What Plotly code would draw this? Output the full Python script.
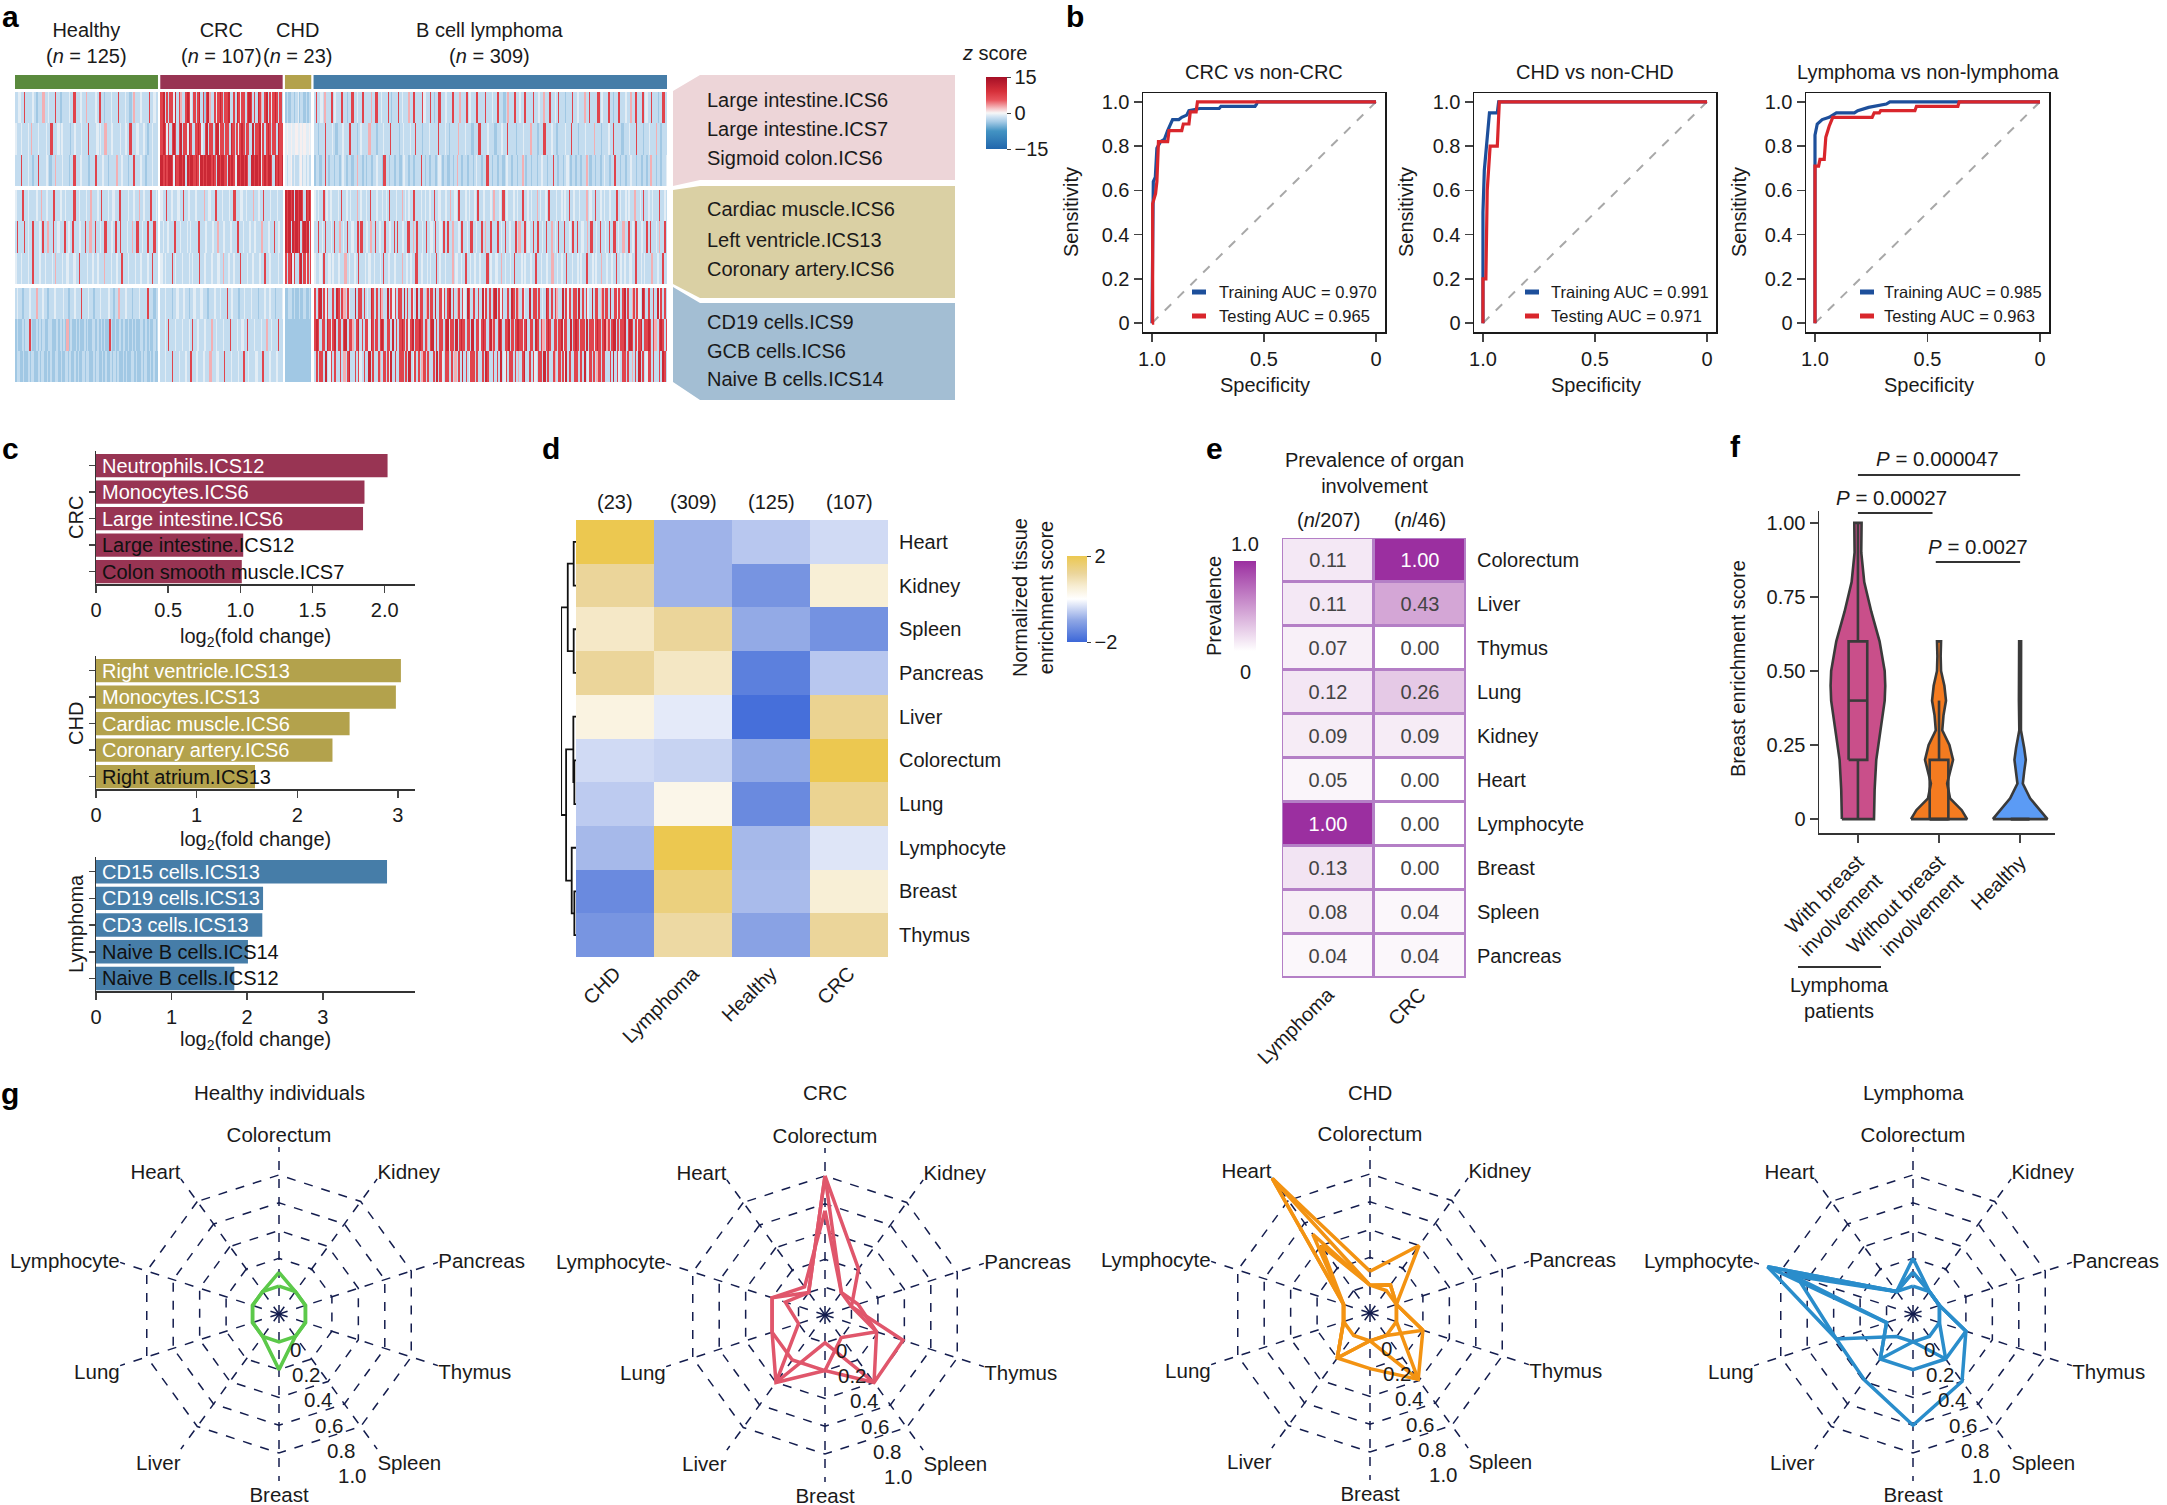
import math
import plotly.graph_objects as go

W, H = 2167, 1505
FONT = "Liberation Sans, Arial, Helvetica, sans-serif"
INK = "#1a1a1a"
NAVY = "#141D4E"

# ============================ DATA ============================
# ---- a: ICS z-score heatmap ----
a_groups = ["Healthy", "CRC", "CHD", "B cell lymphoma"]
a_group_n = [125, 107, 23, 309]
a_features = ["Large intestine.ICS6", "Large intestine.ICS7", "Sigmoid colon.ICS6",
              "Cardiac muscle.ICS6", "Left ventricle.ICS13", "Coronary artery.ICS6",
              "CD19 cells.ICS9", "GCB cells.ICS6", "Naive B cells.ICS14"]
# estimated z-score level of each stripe (read by eye): key -> z
a_level_key = {"-": -0.8, ".": -2.2, ":": -3.8, "b": -6.0, "w": 0.3,
               "p": 2.5, "r": 7.0, "R": 10.5}
a_patterns = [
    ["..-..r....-.:...p..-...r..:....-..r...-..p.....-.r..:...-...r...-..:.p...-....r..-..",
     "rR.r.rr-R.rp..rRr-.r.rR.r:rRp..r-rRr.rrR..r.Rr-rr.rRr.r.Rrp.rR.r-rRr.r.",
     ":.:..:.-:..:.:..",
     ".r..-.p...r.-...r..:..r..-..r....p..r..-...r.:...r.-...p..r....r-...r.:..r...-...r...p...r.-...r....r...-..r...:.p...r..-..r....r..-..p...r..-.r...:...r..-...p..r....r.-...r..:..r...-..p..r...r.-..r...:..r.."],
    ["-..-...-.p...-....-..r...-.-....:..-...-...r....-.-..p...-....-..-..r...-...-.:..-...",
     "rRr-r.rRr.rR.rr-Rr.rrRr-.rR.rr.rR-rr.rr.Rr.r-rRr.rr.R.rrR-r.rRr.rr.Rrr",
     "-w-w--w--w-w--w-",
     "..:...r...-.:...-...r...:.-....p...:...-...r....:.-...-..r...:...-....r...-.:....p...-...:...r....-...:...-..r....:...-...p...:...r...-..:....-..r...:...-....p...:...-..r....:...-...r...:..-...p..:..."],
    ["...r...-..:..r....-.:..p...-...:..r...-....:...r...-..:....p..-...:..r...-..:...-...",
     "RrRrRRr-RrRRrR.RrRRrRr-RrRrRRrRr.RrRRr.RrRr-RRrRrRr.RRrRrR-rRrRRr.RrRrR",
     "-.-w.-..-w.-.-..",
     ":..:..r.:..:..:.-.:..:..p..:.:..:..-..:r..:..:..:.-..:..:...r.:..:..:.-.:..:..:.p..:..:..:.-..:..r..:..:..:.-..:..:..p.:..:..:..-..:..r..:..:.-.:..:..:..p.:..:..:.-..:..r..:..:..-..:..:..:.p..:..:..-"],
    ["-...r..-....-..p..-...r...-..-....r..-...-..p...-.r...-..-...r....-..-..p..-...r..-.",
     "-..r..-...-..r..-...-....p..-...r...-...-..r...-..-...p..-..r...-...-...",
     "RrRrR.RrRRr.RrRr",
     "-.-..r.-.-...-.r..-.-...p.-..-.r...-..-.-.r...-..p.-.-..r...-.-..-.r..-...-.p..-.r...-.-..-.r..-...-.p..-.r.-...-.-..r..-.-..p.-..-.r...-..-.-.r..-..-...p.-..r..-.-..-...r.-..-.-..p..-.r..-.-...r..-."],
    [".r...r.-..r...-.r..p..r..-...r.-..r...-..r..p..r..-..r...-.r..r...-..p..r..-..r...r..",
     ".-..-...r..-...-.-....r...-...-..p...-...-...r..-...-..-...p...-..r..-..",
     "RrR.RrRrR.rRrR.r",
     "..r.-.r..-.r..p.-.r..-..r.r..-.p..r.-..r..-.r.r..-..r..p.r..-.r..-.r..-.r.r..p..-.r..-.r..-..r.p..r...r.-.r..-..r.p..r.-..r.r..-.r..p.-.r..r..-.r.r..-..p.r..-.r..-.r..r.-..p..r.-.r..-..r.r..-.p..r."],
    ["-..-...-..r...-..-...-.p...-..-...-..r....-..-..-...p...-..-..r...-...-..-...-..r...",
     "-.-...r.-...-...-.-...r..-...-...-..p..-..-...r...-..-...-..r..-....-..",
     "r.rR-r..rR.r-r.r",
     "-..-.r..-.-..-...p.-..-.r...-.-..-..-.r..-..-...p..-.-..r..-..-.-..r.-..-...p.-..-.r..-.-..-...r.-..-..p.-..-.r...-.-..-..r..-..-..p..-.-..r..-..-.-..r..-.-..p..-..-.r..-.-..-..r..-.-...p..-..r.."],
    [".-..:...-...p...-..:...-....-..:...-...r...-..:...-....-..:..p...-...:...-....r...:..",
     "..-...:..-...-..:..-...-...:...-..-...r..-...:..-...-...:...-..-..:...-",
     "::..:.::.::.::.:",
     "r.rR.r-r..r.Rr.rp.r-..R.rr.r.-.Rr.r.rp..R.r-r.rr.R.r.r-.R.rr.pr.r.R..r-r.rR.r.pr.r-.Rr.r..r.R-r.r.rR.r-r..r.Rr.rp.r-..R.rr.r.-.Rr.r.rp..R.r-r.rr.R.r.r-.R.rr.pr.r.R..r-r.rR.r.pr.r-.Rr.r..r.R-r.r."],
    [":.::.:..r.::.:.:.::..:::.:.:.:p:.::.:.::.:.::..:.:.:.::r.:.::.:.::.:.:.::..:.:.::.:.",
     "..-.r...-...-...-.r..-...-...p..-...-...r...-..-..r...-...-..p..-...r..",
     "::::::::::::::::",
     "rRr.rr.Rr-rR.rr.rR.rrp.rR.r.rr-Rr.r.rRr.rr.R.r.rRr.r-rR.rrRr.rp.rR.r.rr.rR-rr.R.rRr.rr.R.rr-rRr.rRpr.rRr.rrR.r.rRrr-rR.rr.Rr.rp.rRr.rr.rR-rr.R.rRr.rr.R.rr-rRr.rRpr.rR.r.rrR.rRr.r-rR.rrRr.rp.rRr.r"],
    [":.::.::.:..::.:.::.:.::..:.::.:.::.:.::.:..::.:.::.:.::.:.:.::.:.::..:.::.:.::.:.::",
     "..-...r...-...-..r..-...-...p...-...r...-...-..r..-...-...r...-...-...",
     "::::::::::::::::",
     ".r.rr.R.-r.r..r.p.rR..r.r-.r..R.r..rp.r.r-R.r..rr.r.R.-r.r.pr.r..r.R.r-.rr.r.p.r.R.r.-rr.r..r.Rr..r.r.R.-r.rr.r.p.rR..r.r-.rr.R.r..rp.r.r-R.r..rr.r.R.-r.r.pr.rr..r.R.r-.rr.r.p.r.R.r.-rr.r..r.Rr."],
]

# ---- b: ROC curves (specificity, sensitivity) ----
roc_titles = ["CRC vs non-CRC", "CHD vs non-CHD", "Lymphoma vs non-lymphoma"]
roc_train_auc = [0.970, 0.991, 0.985]
roc_test_auc = [0.965, 0.971, 0.963]
roc_train_spec = [
    [1.0, 0.994, 0.985, 0.978, 0.962, 0.945, 0.930, 0.908, 0.880, 0.867, 0.845, 0.835, 0.787, 0.700, 0.692, 0.540, 0.533, 0.530, 0.0],
    [1.0, 1.0, 0.994, 0.987, 0.978, 0.971, 0.936, 0.930, 0.0],
    [1.0, 1.0, 1.0, 0.990, 0.968, 0.937, 0.905, 0.825, 0.810, 0.762, 0.730, 0.683, 0.667, 0.0],
]
roc_train_sens = [
    [0.0, 0.64, 0.66, 0.79, 0.82, 0.83, 0.87, 0.92, 0.92, 0.93, 0.94, 0.96, 0.97, 0.97, 0.98, 0.98, 0.99, 1.0, 1.0],
    [0.0, 0.50, 0.69, 0.78, 0.90, 0.95, 0.95, 1.0, 1.0],
    [0.0, 0.72, 0.85, 0.90, 0.92, 0.93, 0.95, 0.95, 0.96, 0.975, 0.98, 0.99, 1.0, 1.0],
]
roc_test_spec = [
    [1.0, 0.997, 0.997, 0.984, 0.978, 0.971, 0.930, 0.924, 0.867, 0.860, 0.835, 0.829, 0.803, 0.797, 0.0],
    [1.0, 1.0, 0.987, 0.981, 0.968, 0.936, 0.927, 0.0],
    [1.0, 1.0, 0.984, 0.978, 0.959, 0.952, 0.937, 0.921, 0.746, 0.737, 0.714, 0.708, 0.556, 0.549, 0.365, 0.359, 0.0],
]
roc_test_sens = [
    [0.0, 0.0, 0.54, 0.585, 0.64, 0.82, 0.82, 0.87, 0.87, 0.90, 0.90, 0.955, 0.955, 1.0, 1.0],
    [0.0, 0.20, 0.20, 0.60, 0.80, 0.80, 1.0, 1.0],
    [0.0, 0.71, 0.71, 0.74, 0.74, 0.84, 0.89, 0.93, 0.93, 0.95, 0.95, 0.96, 0.96, 0.98, 0.98, 1.0, 1.0],
]

# ---- c: top enriched ICS (log2 fold change) ----
c_panels = ["CRC", "CHD", "Lymphoma"]
c_crc_labels = ["Neutrophils.ICS12", "Monocytes.ICS6", "Large intestine.ICS6",
                "Large intestine.ICS12", "Colon smooth muscle.ICS7"]
c_crc_values = [2.02, 1.86, 1.85, 1.02, 1.01]
c_chd_labels = ["Right ventricle.ICS13", "Monocytes.ICS13", "Cardiac muscle.ICS6",
                "Coronary artery.ICS6", "Right atrium.ICS13"]
c_chd_values = [3.03, 2.98, 2.52, 2.35, 1.58]
c_lym_labels = ["CD15 cells.ICS13", "CD19 cells.ICS13", "CD3 cells.ICS13",
                "Naive B cells.ICS14", "Naive B cells.ICS12"]
c_lym_values = [3.85, 2.21, 2.20, 2.01, 1.83]

# ---- d: normalized tissue enrichment score ----
d_groups = ["CHD", "Lymphoma", "Healthy", "CRC"]
d_group_n = [23, 309, 125, 107]
d_organs = ["Heart", "Kidney", "Spleen", "Pancreas", "Liver",
            "Colorectum", "Lung", "Lymphocyte", "Breast", "Thymus"]
d_scores = [
    [2.00, -0.85, -0.63, -0.42],
    [1.20, -0.85, -1.28, 0.55],
    [0.72, 1.20, -0.96, -1.32],
    [1.20, 0.75, -1.61, -0.63],
    [0.40, -0.24, -1.88, 1.30],
    [-0.42, -0.50, -0.97, 2.00],
    [-0.58, 0.30, -1.44, 1.30],
    [-0.79, 2.00, -0.79, -0.29],
    [-1.44, 1.50, -0.76, 0.55],
    [-1.27, 1.10, -1.06, 1.20],
]
# row dendrogram: (child_a, child_b, merge height); leaves 0..9, new nodes 10..
d_linkage = [(0, 1, 7), (2, 3, 7), (10, 11, 25), (5, 6, 5), (4, 13, 8),
             (8, 9, 5), (7, 15, 13), (14, 16, 30), (12, 17, 45)]

# ---- e: prevalence of organ involvement ----
e_groups = ["Lymphoma", "CRC"]
e_group_n = [207, 46]
e_organs = ["Colorectum", "Liver", "Thymus", "Lung", "Kidney",
            "Heart", "Lymphocyte", "Breast", "Spleen", "Pancreas"]
e_lymphoma = [0.11, 0.11, 0.07, 0.12, 0.09, 0.05, 1.00, 0.13, 0.08, 0.04]
e_crc = [1.00, 0.43, 0.00, 0.26, 0.09, 0.00, 0.00, 0.00, 0.04, 0.04]

# ---- f: breast enrichment score violins ----
f_groups = ["With breast<br>involvement", "Without breast<br>involvement", "Healthy"]
f_levels = [
    [0, 0.1, 0.2, 0.3, 0.4, 0.45, 0.5, 0.6, 0.7, 0.8, 0.9, 1.0],
    [0, 0.03, 0.07, 0.12, 0.2, 0.25, 0.3, 0.35, 0.4, 0.45, 0.5, 0.55, 0.6],
    [0, 0.03, 0.07, 0.12, 0.16, 0.2, 0.24, 0.3, 0.4, 0.5, 0.6],
]
f_density = [
    [0.198, 0.206, 0.226, 0.28, 0.33, 0.337, 0.33, 0.267, 0.165, 0.078, 0.041, 0.045],
    [0.346, 0.28, 0.136, 0.10, 0.173, 0.128, 0.04, 0.055, 0.086, 0.066, 0.025, 0.02, 0.025],
    [0.337, 0.247, 0.123, 0.033, 0.05, 0.07, 0.05, 0.01, 0.015, 0.01, 0.012],
]
f_q1 = [0.2, 0.0, 0.0]
f_median = [0.4, 0.0, 0.0]
f_q3 = [0.6, 0.2, 0.0]
f_low = [0.0, 0.0, 0.0]
f_high = [1.0, 0.4, 0.0]
f_pvalues = ["0.00027", "0.0027", "0.000047"]
f_pairs = [(0, 0.92), (0.96, 2.0), (0, 2.0)]

# ---- g: radar charts ----
g_titles = ["Healthy individuals", "CRC", "CHD", "Lymphoma"]
g_organs = ["Colorectum", "Kidney", "Pancreas", "Thymus", "Spleen",
            "Breast", "Liver", "Lung", "Lymphocyte", "Heart"]
g_ticks = [0, 0.2, 0.4, 0.6, 0.8, 1.0]
g_ticktext = ["0", "0.2", "0.4", "0.6", "0.8", "1.0"]
g_healthy = [
    [0.10, 0, 0, 0, 0, 0.20, 0, 0, 0, 0],
    [0, 0, 0, 0, 0, 0, 0, 0, 0, 0],
]
g_crc = [
    [0.80, 0.21, 0.0, 0.39, 0.40, 0.20, 0.40, 0.20, 0.20, 0.0],
    [0.80, 0.0, 0.05, 0.19, 0.40, 0.0, 0.40, 0.0, 0.10, 0.0],
    [0.55, 0.0, 0.0, 0.19, 0.0, 0.20, 0.20, 0.20, 0.20, 0.05],
]
g_chd = [
    [0.10, 0.40, 0.0, 0.20, 0.39, 0.20, 0.20, 0.0, 0.0, 1.00],
    [0.0, 0.05, 0.0, 0.0, 0.39, 0.0, 0.20, 0.0, 0.0, 1.00],
    [0.0, 0.05, 0.0, 0.20, 0.0, 0.0, 0.0, 0.0, 0.0, 0.50],
    [0.0, 0.0, 0.0, 0.0, 0.0, 0.0, 0.20, 0.0, 0.0, 0.40],
]
g_lymphoma = [
    [0.10, 0.0, 0.0, 0.20, 0.40, 0.60, 0.39, 0.38, 0.90, 0.0],
    [0.20, 0.0, 0.0, 0.20, 0.20, 0.20, 0.20, 0.0, 0.90, 0.0],
    [0.10, 0.0, 0.0, 0.0, 0.20, 0.0, 0.0, 0.38, 0.68, 0.0],
    [0.0, 0.0, 0.0, 0.0, 0.0, 0.0, 0.20, 0.0, 0.75, 0.0],
]

# ============================ HELPERS ============================
def xdom(a, b):
    return [a / W, b / W]


def ydom(top, bottom):
    return [1 - bottom / H, 1 - top / H]


def A(text, x, y, size=20, xa="center", ya="middle", angle=0, color=INK, **kw):
    d = dict(text=text, x=x / W, y=1 - y / H, xref="paper", yref="paper",
             xanchor=xa, yanchor=ya, showarrow=False, textangle=angle,
             font=dict(size=size, color=color, family=FONT))
    d.update(kw)
    return d


def ppath(pts):
    return "M " + " L ".join(f"{x / W:.5f},{1 - y / H:.5f}" for x, y in pts) + " Z"


traces, shapes, annotations = [], [], []
layout = dict(width=W, height=H,
              margin=dict(l=0, r=0, t=0, b=0, pad=0, autoexpand=False),
              paper_bgcolor="white", plot_bgcolor="white", showlegend=False,
              font=dict(family=FONT, size=20, color=INK))


def axis(dom, **kw):
    d = dict(domain=dom, showgrid=False, zeroline=False, automargin=False)
    d.update(kw)
    return d


# ============================ PANEL a ============================
GAP = 2
starts = []
pos = 0
for n in a_group_n:
    starts.append(pos)
    pos += n + GAP
ncols = pos - GAP
rows = []
for pats in a_patterns:
    row = []
    for gi, (pat, n) in enumerate(zip(pats, a_group_n)):
        row += [a_level_key[pat[k * len(pat) // n]] for k in range(n)]
        if gi < len(a_group_n) - 1:
            row += [None] * GAP
    rows.append(row)
blank = [None] * ncols
za = rows[0:3] + [blank] + rows[3:6] + [blank] + rows[6:9]
y_edges = [0, 1, 2, 3, 3.13, 4.13, 5.13, 6.13, 6.26, 7.26, 8.26, 9.26]
a_scale = [[0.0, "#2166AC"], [0.25, "#4393C3"], [0.38, "#A6CBE6"], [0.45, "#D2E4F3"],
           [0.5, "#F7F7F7"], [0.56, "#F6C5C8"], [0.68, "#E8545C"], [0.8, "#D6303A"],
           [1.0, "#A50F26"]]
traces.append(go.Heatmap(
    z=za, y=y_edges, x0=0, dx=1, colorscale=a_scale, zmin=-15, zmax=15,
    xaxis="x", yaxis="y", hoverinfo="skip",
    colorbar=dict(x=986 / W, xanchor="left", y=1 - 77 / H, yanchor="top",
                  len=72, lenmode="pixels", thickness=21, thicknessmode="pixels",
                  outlinewidth=0, xpad=0, ypad=0, tickvals=[15, 0, -15],
                  ticktext=["15", "0", "\u221215"], ticks="outside", ticklen=4,
                  tickfont=dict(size=20))))
layout["xaxis"] = axis(xdom(15, 667), range=[-0.5, ncols - 0.5], visible=False, anchor="y")
layout["yaxis"] = axis(ydom(92, 382), range=[9.26, 0], visible=False, anchor="x")
annotations.append(A("<i>z</i> score", 994, 53))

a_group_colors = ["#5A8A3D", "#983453", "#B3A24C", "#467DA8"]
for g, n, s, col in zip(a_groups, a_group_n, starts, a_group_colors):
    shapes.append(dict(type="rect", xref="x", yref="paper", x0=s - 0.5, x1=s + n - 0.5,
                       y0=1 - 89 / H, y1=1 - 75 / H, fillcolor=col, line=dict(width=0)))
    annotations.append(dict(text=f"{g}<br>(<i>n</i> = {n})", x=s + n / 2 - 0.5, xref="x",
                            y=1 - 43 / H, yref="paper", xanchor="center", yanchor="middle",
                            showarrow=False, font=dict(size=20, color=INK)))

box_cols = ["#EDD5D8", "#DAD0A4", "#A3BED3"]
box_polys = [
    [(673, 91), (700, 75), (955, 75), (955, 180), (700, 180), (673, 186)],
    [(673, 190), (700, 186), (955, 186), (955, 298), (700, 298), (673, 284)],
    [(673, 287), (700, 303), (955, 303), (955, 400), (700, 400), (673, 382)],
]
box_text_y = [[100, 129, 158], [209, 240, 269], [322, 351, 379]]
for bi in range(3):
    shapes.append(dict(type="path", xref="paper", yref="paper", path=ppath(box_polys[bi]),
                       fillcolor=box_cols[bi], line=dict(width=0), layer="below"))
    for li in range(3):
        annotations.append(A(a_features[bi * 3 + li], 705, box_text_y[bi][li], xa="left"))

# ============================ PANEL b ============================
roc_boxes = [(1143, 1385), (1474, 1716), (1806, 2049)]
roc_label_x = [1071, 1406, 1739]
roc_leg = [(1192, 1217), (1525, 1549), (1860, 1882)]
BLUE, RED = "#1D4F9B", "#D9262C"
for i in range(3):
    k = i + 2
    x0, x1 = roc_boxes[i]
    layout[f"xaxis{k}"] = axis(xdom(x0, x1), range=[1.04, -0.04], tickvals=[1, 0.5, 0],
                               ticktext=["1.0", "0.5", "0"], ticks="outside", ticklen=8,
                               tickwidth=1.5, showline=True, mirror=True, linecolor=INK,
                               linewidth=1.5, anchor=f"y{k}", tickfont=dict(size=20))
    layout[f"yaxis{k}"] = axis(ydom(93, 332), range=[-0.04, 1.04],
                               tickvals=[0, 0.2, 0.4, 0.6, 0.8, 1.0],
                               ticktext=["0", "0.2", "0.4", "0.6", "0.8", "1.0"],
                               ticks="outside", ticklen=8, tickwidth=1.5, showline=True,
                               mirror=True, linecolor=INK, linewidth=1.5, anchor=f"x{k}",
                               tickfont=dict(size=20))
    traces.append(go.Scatter(x=[1, 0], y=[0, 1], mode="lines", xaxis=f"x{k}", yaxis=f"y{k}",
                             line=dict(color="#A8A8A8", width=2, dash="dash"), hoverinfo="skip"))
    traces.append(go.Scatter(x=roc_train_spec[i], y=roc_train_sens[i], mode="lines",
                             xaxis=f"x{k}", yaxis=f"y{k}", line=dict(color=BLUE, width=3.2)))
    traces.append(go.Scatter(x=roc_test_spec[i], y=roc_test_sens[i], mode="lines",
                             xaxis=f"x{k}", yaxis=f"y{k}", line=dict(color=RED, width=3.2)))
    annotations.append(A(roc_titles[i], (x0 + x1) / 2, 72))
    annotations.append(A("Sensitivity", roc_label_x[i], 212, angle=-90))
    annotations.append(A("Specificity", (x0 + x1) / 2 + 1, 385))
    lx, tx = roc_leg[i]
    for yy, col, lab, auc in [(292, BLUE, "Training", roc_train_auc[i]),
                              (316, RED, "Testing", roc_test_auc[i])]:
        shapes.append(dict(type="line", xref="paper", yref="paper", x0=lx / W, x1=(lx + 14) / W,
                           y0=1 - yy / H, y1=1 - yy / H, line=dict(color=col, width=5)))
        annotations.append(A(f"{lab} AUC = {auc:.3f}", tx, yy, size=16.5, xa="left"))

# ============================ PANEL c ============================
c_data = [(c_crc_labels, c_crc_values, "#983453", 2.21, (451, 584), [0, 0.5, 1.0, 1.5, 2.0],
           ["0", "0.5", "1.0", "1.5", "2.0"], 3, 518, 638),
          (c_chd_labels, c_chd_values, "#B3A24C", 3.17, (656, 789), [0, 1, 2, 3],
           ["0", "1", "2", "3"], 4, 724, 840),
          (c_lym_labels, c_lym_values, "#467DA8", 4.22, (857, 991), [0, 1, 2, 3],
           ["0", "1", "2", "3"], 3, 924, 1040)]
for i, (labs, vals, col, xmax, (yt, yb), tv, tt, dark_from, ymid, xlab_y) in enumerate(c_data):
    k = i + 5
    layout[f"xaxis{k}"] = axis(xdom(96, 415), range=[0, xmax], tickvals=tv, ticktext=tt,
                               ticks="outside", ticklen=7, tickwidth=1.5, showline=True,
                               linecolor="#333", linewidth=1.5, anchor=f"y{k}",
                               tickfont=dict(size=20))
    layout[f"yaxis{k}"] = axis(ydom(yt, yb), range=[4.47, -0.55], tickvals=[0, 1, 2, 3, 4],
                               showticklabels=False, ticks="outside", ticklen=6, tickwidth=1.5,
                               showline=True, linecolor="#333", linewidth=1.5, anchor=f"x{k}")
    traces.append(go.Bar(x=vals, y=list(range(len(vals))), orientation="h", width=0.88,
                         marker=dict(color=col, line=dict(width=0)), xaxis=f"x{k}",
                         yaxis=f"y{k}", hoverinfo="skip"))
    for j, lab in enumerate(labs):
        annotations.append(dict(text=lab, x=0, y=j, xref=f"x{k}", yref=f"y{k}", xanchor="left",
                                yanchor="middle", xshift=4, showarrow=False,
                                font=dict(size=20, color="white" if j < dark_from else "#111")))
    annotations.append(A(c_panels[i], 76, ymid, angle=-90))
    annotations.append(A("log<sub>2</sub>(fold change)", 255, xlab_y))

# ============================ PANEL d ============================
d_scale = [[0.0, "#3C67D8"], [0.25, "#8EA6E5"], [0.5, "#FFFFFF"], [0.65, "#F7EDD2"],
           [0.8, "#EBD59A"], [1.0, "#ECC850"]]
traces.append(go.Heatmap(
    z=d_scores, x=d_groups, y=d_organs, colorscale=d_scale, zmin=-2, zmax=2,
    xaxis="x8", yaxis="y8", hoverinfo="skip",
    colorbar=dict(x=1067 / W, xanchor="left", y=1 - 556 / H, yanchor="top", len=86,
                  lenmode="pixels", thickness=20, thicknessmode="pixels", outlinewidth=0,
                  xpad=0, ypad=0, tickvals=[2, -2], ticktext=["2", "\u22122"],
                  ticks="outside", ticklen=4, tickfont=dict(size=20))))
layout["xaxis8"] = axis(xdom(576, 888), anchor="y8", tickangle=-45, ticks="",
                        tickfont=dict(size=20))
layout["yaxis8"] = axis(ydom(520, 957), anchor="x8", side="right", range=[9.5, -0.5],
                        ticks="", ticklabelstandoff=10, tickfont=dict(size=20))
col_w = (888 - 576) / 4
for j, n in enumerate(d_group_n):
    annotations.append(A(f"({n})", 576 + col_w * (j + 0.5), 502))
annotations.append(A("Normalized tissue<br>enrichment score", 1033, 598, angle=-90))

node_pos = {i: float(i) for i in range(len(d_organs))}
node_h = {i: 0.0 for i in range(len(d_organs))}
dx_, dy_ = [], []
nid = len(d_organs)
for a, b, h in d_linkage:
    dx_ += [node_h[a], h, h, node_h[b], None]
    dy_ += [node_pos[a], node_pos[a], node_pos[b], node_pos[b], None]
    node_pos[nid] = (node_pos[a] + node_pos[b]) / 2
    node_h[nid] = h
    nid += 1
traces.append(go.Scatter(x=dx_, y=dy_, mode="lines", line=dict(color="#111", width=1.8),
                         xaxis="x9", yaxis="y9", hoverinfo="skip"))
layout["xaxis9"] = axis(xdom(561, 576), range=[45.5, 0], visible=False, anchor="y9")
layout["yaxis9"] = axis(ydom(520, 957), range=[9.5, -0.5], visible=False, anchor="x9")

# ============================ PANEL e ============================
ze = [[a, b] for a, b in zip(e_lymphoma, e_crc)]
traces.append(go.Heatmap(
    z=ze, x=e_groups, y=e_organs, colorscale=[[0, "#FFFFFF"], [1, "#9B2FA0"]], zmin=0, zmax=1,
    xgap=3, ygap=3, texttemplate="%{z:.2f}", textfont=dict(size=20),
    xaxis="x10", yaxis="y10", hoverinfo="skip",
    colorbar=dict(x=1234 / W, xanchor="left", y=1 - 561 / H, yanchor="top", len=90,
                  lenmode="pixels", thickness=22, thicknessmode="pixels", outlinewidth=0,
                  xpad=0, ypad=0, showticklabels=False, ticks="")))
layout["xaxis10"] = axis(xdom(1282, 1466), anchor="y10", tickangle=-45, ticks="",
                         range=[-0.5, 1.5], tickfont=dict(size=20))
layout["yaxis10"] = axis(ydom(538, 978), anchor="x10", side="right", range=[9.5, -0.5],
                         ticks="", ticklabelstandoff=10, tickfont=dict(size=20))
shapes.append(dict(type="rect", xref="x10", yref="y10", x0=-0.515, x1=1.515, y0=-0.51,
                   y1=9.51, fillcolor="#B47FC6", line=dict(width=0), layer="below"))
ecol_w = (1466 - 1282) / 2
for j, n in enumerate(e_group_n):
    annotations.append(A(f"(<i>n</i>/{n})", 1282 + ecol_w * (j + 0.5), 520))
annotations.append(A("Prevalence of organ<br>involvement", 1374, 473))
annotations.append(A("Prevalence", 1214, 606, angle=-90))
annotations.append(A("1.0", 1245, 544))
annotations.append(A("0", 1245, 672))

# ============================ PANEL f ============================
f_colors = ["#C94F8A", "#F47B20", "#5B9BF5"]
OUT = "#3A3A3A"
BOXW = 0.115
for i in range(3):
    ys = f_levels[i]
    hw = f_density[i]
    px_ = [i - w for w in hw] + [i + w for w in reversed(hw)] + [i - hw[0]]
    py_ = list(ys) + list(reversed(ys)) + [ys[0]]
    traces.append(go.Scatter(x=px_, y=py_, mode="lines", fill="toself", fillcolor=f_colors[i],
                             line=dict(color=OUT, width=2.6), xaxis="x11", yaxis="y11",
                             hoverinfo="skip"))
    bx = [i - BOXW, i + BOXW, i + BOXW, i - BOXW, i - BOXW, None,
          i - BOXW, i + BOXW, None, i, i, None, i, i]
    by = [f_q1[i], f_q1[i], f_q3[i], f_q3[i], f_q1[i], None,
          f_median[i], f_median[i], None, f_low[i], f_q1[i], None, f_q3[i], f_high[i]]
    traces.append(go.Scatter(x=bx, y=by, mode="lines", line=dict(color=OUT, width=2.6),
                             xaxis="x11", yaxis="y11", hoverinfo="skip"))
layout["xaxis11"] = axis(xdom(1819, 2055), anchor="y11", range=[-0.48, 2.43],
                         tickvals=[0, 1, 2], ticktext=f_groups, tickangle=-45,
                         ticks="outside", ticklen=8, tickwidth=1.5, showline=True,
                         linecolor="#333", linewidth=1.5, tickfont=dict(size=20))
layout["yaxis11"] = axis(ydom(511, 833), anchor="x11", range=[-0.047, 1.04],
                         tickvals=[0, 0.25, 0.5, 0.75, 1.0],
                         ticktext=["0", "0.25", "0.50", "0.75", "1.00"], ticks="outside",
                         ticklen=8, tickwidth=1.5, showline=True, linecolor="#333",
                         linewidth=1.5, tickfont=dict(size=20))
p_line_y = [513, 562, 475]
p_text = [(1891, 497), (1978, 546), (1938, 458)]
for (xa, xb), ly, (tx, ty), pv in zip(f_pairs, p_line_y, p_text, f_pvalues):
    shapes.append(dict(type="line", xref="x11", yref="paper", x0=xa, x1=xb,
                       y0=1 - ly / H, y1=1 - ly / H, line=dict(color="#333", width=2)))
    annotations.append(A(f"<i>P</i> = {pv}", tx, ty, size=20.5))
annotations.append(A("Breast enrichment score", 1738, 669, angle=-90))
shapes.append(dict(type="line", xref="paper", yref="paper", x0=1798 / W, x1=1881 / W,
                   y0=1 - 967 / H, y1=1 - 967 / H, line=dict(color="#333", width=2)))
annotations.append(A("Lymphoma<br>patients", 1839, 998))

# ============================ PANEL g ============================
g_sets = [g_healthy, g_crc, g_chd, g_lymphoma]
g_cols = ["#5CC94A", "#E0566B", "#F39312", "#2A8DCB"]
g_centers = [(279, 1314), (825, 1315), (1370, 1313), (1913, 1314)]
R = 167
RMIN, RMAX = -0.2, 1.001
LAB_DIR = math.radians(155.5)  # direction of the value labels, clockwise from top
for i in range(4):
    cx, cy = g_centers[i]
    key = "polar" if i == 0 else f"polar{i + 1}"
    layout[key] = dict(
        domain=dict(x=xdom(cx - R, cx + R), y=ydom(cy - R, cy + R)),
        bgcolor="rgba(0,0,0,0)", gridshape="linear",
        angularaxis=dict(direction="clockwise", rotation=90, categoryorder="array",
                         categoryarray=g_organs, showline=False, gridcolor=NAVY,
                         griddash="dash", gridwidth=1.5, ticks="", tickfont=dict(size=20.5)),
        radialaxis=dict(range=[RMIN, RMAX], tickvals=g_ticks, showticklabels=False,
                        showline=False, ticks="", gridcolor=NAVY, griddash="dash",
                        gridwidth=1.5))
    for prof in g_sets[i]:
        traces.append(go.Scatterpolar(r=prof + [prof[0]], theta=g_organs + [g_organs[0]],
                                      mode="lines", line=dict(color=g_cols[i], width=3.5),
                                      subplot=key, hoverinfo="skip"))
    annotations.append(A(g_titles[i], cx, 1092, size=20.5))
    # value labels along the lower-right spoke gap (radius from the radial scale)
    for v, t in zip(g_ticks, g_ticktext):
        rp = R * (v - RMIN) / (RMAX - RMIN) + 11
        annotations.append(A(t, cx + rp * math.sin(LAB_DIR), cy - rp * math.cos(LAB_DIR),
                             size=20.5))

# ============================ LETTERS ============================
for lt, x, y in [("a", 10, 16), ("b", 1075, 16), ("c", 10, 449), ("d", 551, 448),
                 ("e", 1214, 449), ("f", 1735, 446), ("g", 10, 1093)]:
    annotations.append(A(f"<b>{lt}</b>", x, y, size=30, color="#000"))

layout["shapes"] = shapes
layout["annotations"] = annotations
fig = go.Figure(data=traces, layout=layout)
fig.write_html("out.html", config={"displayModeBar": False, "staticPlot": True},
               post_script="document.body.style.margin='0';document.body.style.overflow='hidden';")
